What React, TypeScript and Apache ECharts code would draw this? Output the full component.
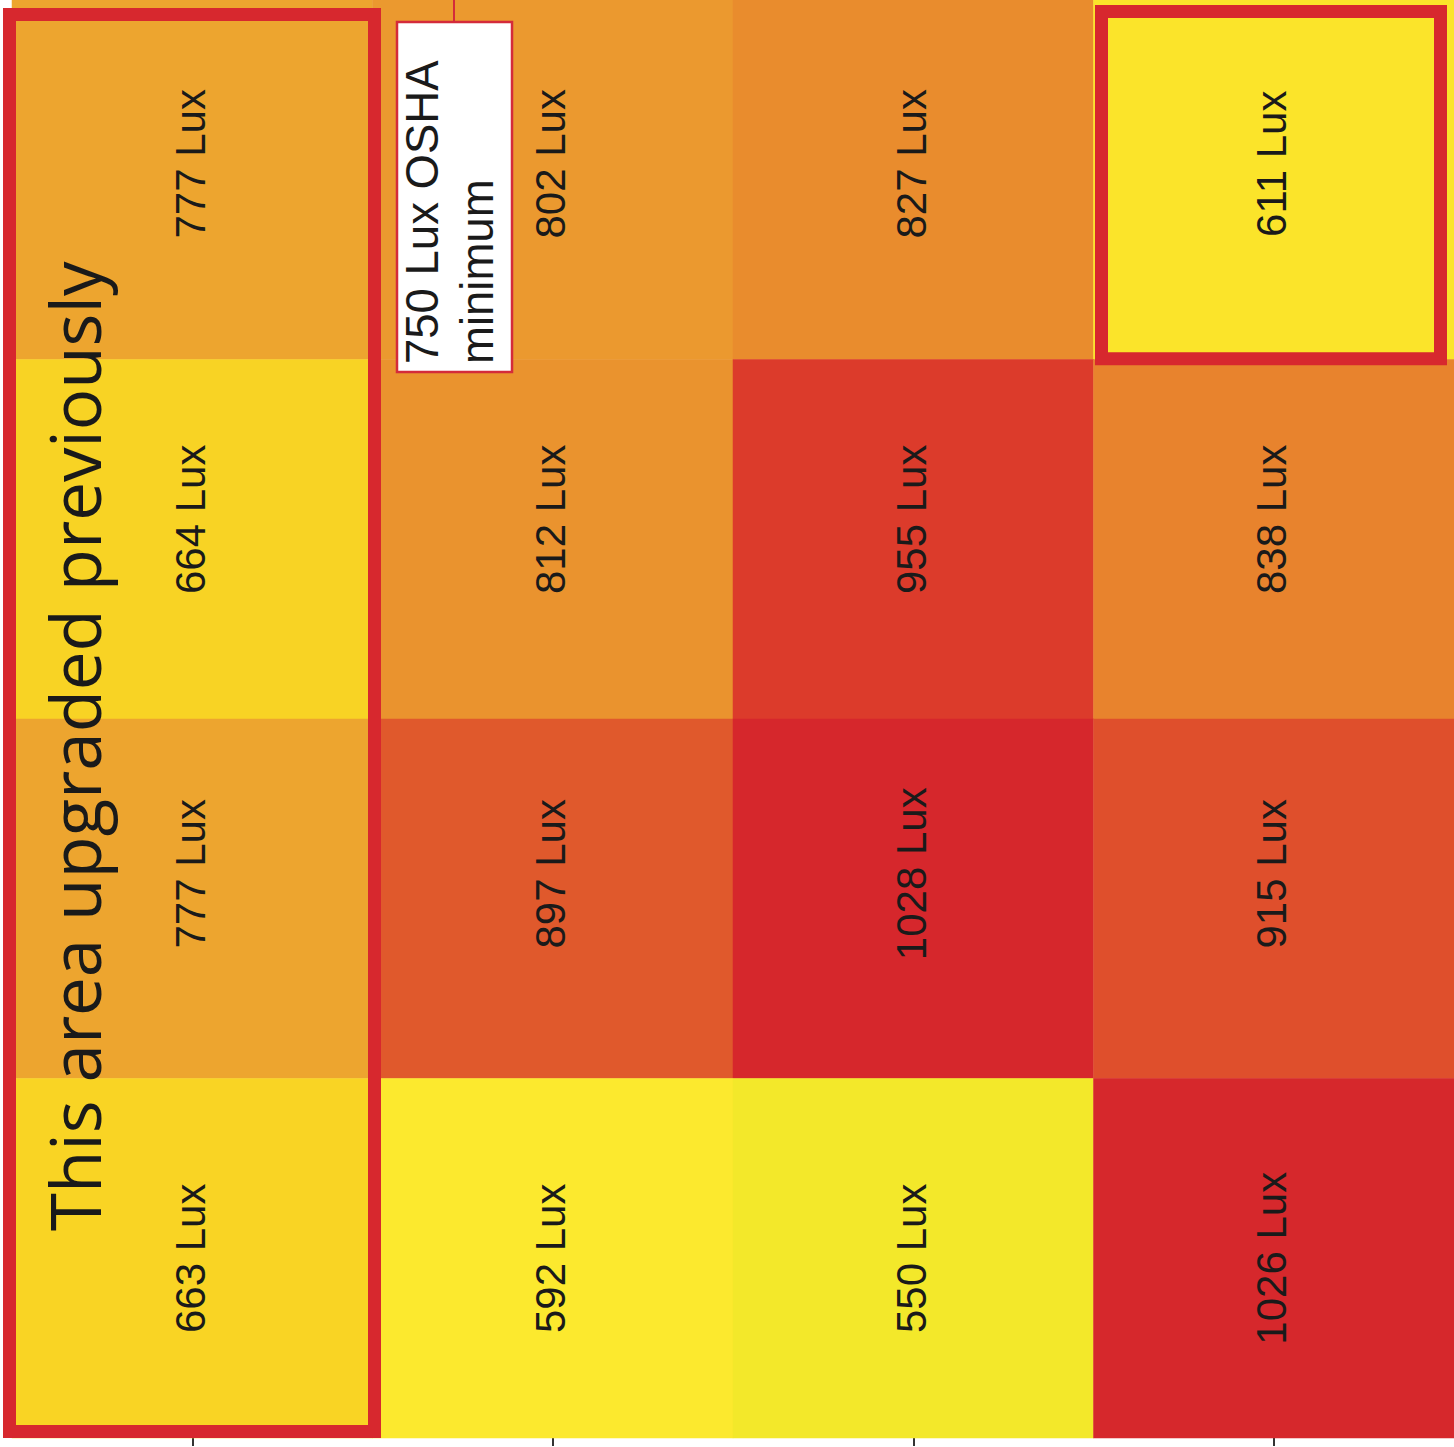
import React, { useEffect, useRef } from "react";
import * as echarts from "echarts";

// Grid columns (left to right) and rows (top to bottom)
const columns = ["Column 1", "Column 2", "Column 3", "Column 4"];
const rows = ["Row 1", "Row 2", "Row 3", "Row 4"];

// Measured illuminance (lux) per row, columns left to right
const row1Lux = [777, 802, 827, 611];
const row2Lux = [664, 812, 955, 838];
const row3Lux = [777, 897, 1028, 915];
const row4Lux = [663, 592, 550, 1026];
const luxRows = [row1Lux, row2Lux, row3Lux, row4Lux];

// Highlighted regions: [column index, first row index, last row index]
const highlightRegions = [
  [0, 0, 3],
  [3, 0, 0],
];

const upgradedNote = "This area upgraded previously";
const oshaNote = "750 Lux OSHA\nminimum";

// Colour scale (evenly spaced stops from scaleMin to scaleMax)
const scaleMin = 550;
const scaleMax = 1030;
const scaleColors = [
  "#F3E82A",
  "#FCE92E",
  "#FBE026",
  "#F8D124",
  "#F4C128",
  "#F0B12C",
  "#EC9F30",
  "#E98A2D",
  "#E3682B",
  "#DF522C",
  "#DC3C2B",
  "#D9302C",
  "#D6272C",
];

// Style constants
const labelShift = [16, 20, 25, 0]; // upward shift per row (rotated frame)
const highlightInsets = [
  [-2.5, 14.5, -2, 6.5], // left, top, right, bottom
  [8, 11.5, 13.5, 0.75],
];
const RED = "#D7282E";

export default function App() {
  const ref = useRef<HTMLDivElement>(null);

  useEffect(() => {
    if (!ref.current) return;
    const chart = echarts.init(ref.current, undefined, { renderer: "svg" });

    const heatData: any[] = [];
    luxRows.forEach((vals, r) => {
      vals.forEach((v, c) => {
        heatData.push({
          value: [c, r, v],
          label: { offset: [labelShift[r], -2] },
        });
      });
    });

    const option: any = {
      animation: false,
      grid: { left: 12, right: 0, top: -3, bottom: 9 },
      xAxis: {
        type: "category",
        data: columns,
        position: "bottom",
        axisLine: { show: false },
        axisLabel: { show: false },
        axisTick: {
          show: true,
          alignWithLabel: true,
          length: 8,
          lineStyle: { color: "#333", width: 2 },
        },
        splitLine: { show: false },
      },
      yAxis: {
        type: "category",
        data: rows,
        inverse: true,
        show: false,
      },
      visualMap: {
        type: "continuous",
        show: false,
        min: scaleMin,
        max: scaleMax,
        dimension: 2,
        seriesIndex: 0,
        inRange: { color: scaleColors },
      },
      series: [
        {
          type: "heatmap",
          data: heatData,
          label: {
            show: true,
            rotate: 90,
            fontSize: 42,
            fontFamily: "Liberation Sans, Arial, sans-serif",
            color: "#1a1a1a",
            formatter: (p: any) => `${p.value[2]} Lux`,
          },
          itemStyle: { borderWidth: 0 },
          emphasis: { disabled: true },
        },
        {
          type: "custom",
          data: highlightRegions,
          encode: { x: 0, y: 1 },
          z: 5,
          silent: true,
          clip: false,
          renderItem: (params: any, api: any) => {
            const col = api.value(0);
            const r0 = api.value(1);
            const r1 = api.value(2);
            const p0 = api.coord([col, r0]);
            const p1 = api.coord([col, r1]);
            const size = api.size([1, 1]);
            const [il, it, ir, ib] = highlightInsets[params.dataIndex];
            const left = p0[0] - size[0] / 2;
            const right = p0[0] + size[0] / 2;
            const top = Math.min(p0[1], p1[1]) - size[1] / 2;
            const bottom = Math.max(p0[1], p1[1]) + size[1] / 2;
            return {
              type: "rect",
              shape: {
                x: left + il,
                y: top + it,
                width: right - ir - (left + il),
                height: bottom - ib - (top + it),
              },
              style: { fill: "none", stroke: RED, lineWidth: 13 },
            };
          },
        },
      ],
      graphic: [
        {
          type: "line",
          z: 20,
          shape: { x1: 454, y1: 0, x2: 454, y2: 22 },
          style: { stroke: "#D42B3A", lineWidth: 2 },
        },
        {
          type: "rect",
          z: 20,
          shape: { x: 397, y: 22, width: 115, height: 350 },
          style: { fill: "#ffffff", stroke: "#D42B3A", lineWidth: 2.5 },
        },
        {
          type: "text",
          z: 21,
          x: 450,
          y: 364,
          rotation: Math.PI / 2,
          style: {
            text: oshaNote,
            fontSize: 45.5,
            lineHeight: 55,
            fontFamily: "Liberation Sans, Arial, sans-serif",
            fill: "#1a1a1a",
            align: "left",
            verticalAlign: "middle",
          },
        },
        {
          type: "text",
          z: 22,
          x: 74,
          y: 1231,
          rotation: Math.PI / 2,
          style: {
            text: upgradedNote,
            fontSize: 69,
            fontFamily: "Open Sans, sans-serif",
            fill: "#1a1a1a",
            align: "left",
            verticalAlign: "middle",
          },
        },
      ],
    };

    chart.setOption(option);
    return () => chart.dispose();
  }, []);

  return (
    <div
      ref={ref}
      style={{ position: "absolute", left: 0, top: 0, width: 1454, height: 1447 }}
    />
  );
}
